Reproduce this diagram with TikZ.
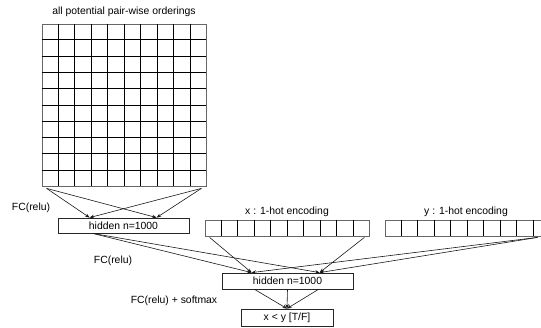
\documentclass[tikz,border=0pt]{standalone}
\usepackage{fontspec}
\setmainfont{Liberation Sans}
\usetikzlibrary{arrows.meta,calc}
\begin{document}
\begin{tikzpicture}[x=1pt,y=-1pt,
  box/.style={draw=black!85, line width=0.8pt, inner sep=0pt, font=\fontsize{10.4}{12}\selectfont},
  gridbox/.style={draw=black!60, line width=0.8pt, inner sep=0pt},
  cell/.style={draw=black, line width=0.8pt},
  conn/.style={-{Stealth[length=4.5pt,width=3.5pt]}, line width=0.6pt, draw=black!90},
  lbl/.style={font=\fontsize{10.4}{12}\selectfont, inner sep=0pt}]
\useasboundingbox (0,0) rectangle (541,328);
% grid of pair-wise orderings
\node[gridbox, minimum width=164pt, minimum height=162pt] (grid) at (124,105) {};
\foreach \i in {1,...,9}{
  \draw[cell] ($(grid.north west)!\i/10!(grid.north east)$) -- ($(grid.south west)!\i/10!(grid.south east)$);
  \draw[cell] ($(grid.north west)!\i/10!(grid.south west)$) -- ($(grid.north east)!\i/10!(grid.south east)$);
}
\node[lbl] (tgrid) at (124,12) {all potential pair-wise orderings};
% encodings
\node[gridbox, minimum width=164pt, minimum height=16pt] (xenc) at (287,228) {};
\node[gridbox, minimum width=164pt, minimum height=16pt] (yenc) at (467,228) {};
\foreach \e in {xenc,yenc}{
  \foreach \i in {1,...,9}{
    \draw[cell] ($(\e.north west)!\i/10!(\e.north east)$) -- ($(\e.south west)!\i/10!(\e.south east)$);
  }
}
\node[lbl] (txenc) at (287,212) {x : 1-hot encoding};
\node[lbl] (tyenc) at (466,212) {y : 1-hot encoding};
% hidden layers and output
\node[box, minimum width=131pt, minimum height=15pt] (h1) at (123.5,225.5) {hidden n=1000};
\node[box, minimum width=131pt, minimum height=16pt] (h2) at (287.5,281) {hidden n=1000};
\node[box, minimum width=92pt, minimum height=17pt] (out) at (287,317.5) {x < y [T/F]};
% labels
\node[lbl] (l1) at (31,208) {FC(relu)};
\node[lbl] (l2) at (113,261) {FC(relu)};
\node[lbl] (l3) at (174,301) {FC(relu) + softmax};
% connectors grid -> h1
\coordinate (gA) at ($(grid.south west)+(5,2)$);
\coordinate (gB) at ($(grid.south east)+(-5,2)$);
\coordinate (h1L) at ($(h1.north west)+(32,0)$);
\coordinate (h1R) at ($(h1.north west)+(99,0)$);
\foreach \s in {gA,gB}{
  \draw[conn] (\s) -- (h1L);
  \draw[conn] (\s) -- (h1R);
}
% connectors -> h2
\coordinate (h1S) at ($(h1.south west)+(35,0)$);
\coordinate (xA) at ($(xenc.south west)+(5,1)$);
\coordinate (xB) at ($(xenc.south east)+(-5,1)$);
\coordinate (yB) at ($(yenc.south west)+(153,1)$);
\coordinate (h2L) at ($(h2.north west)+(30,0)$);
\coordinate (h2R) at ($(h2.north west)+(98,0)$);
\draw[conn] (h1S) -- (h2L);
\draw[conn] (h1S) -- (h2R);
\draw[conn] (xA) -- (h2L);
\draw[conn] (xB) -- (h2R);
\draw[conn] (yB) -- (h2L);
\draw[conn] (yB) -- (h2R);
% connectors h2 -> out
\draw[conn] ($(h2.south west)+(33,0)$) -- (out.north);
\draw[conn] (h2.south) -- (out.north);
\draw[conn] ($(h2.south east)+(-35,0)$) -- (out.north);
\end{tikzpicture}
\end{document}
